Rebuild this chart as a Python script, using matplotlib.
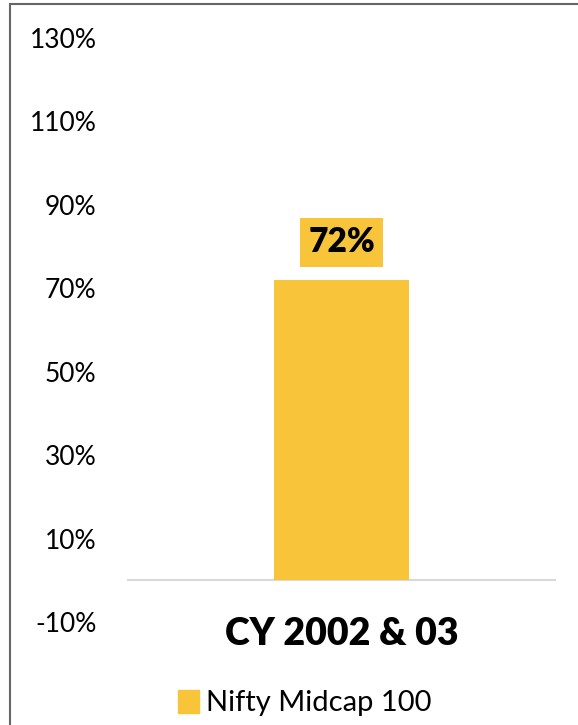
import matplotlib
matplotlib.use("Agg")
import matplotlib.pyplot as plt
from matplotlib.patches import Rectangle, Patch

# data
categories = ["CY 2002 & 03"]
series_name = "Nifty Midcap 100"
values = [72]
yticks = [-10, 10, 30, 50, 70, 90, 110, 130]

bar_color = "#F8C53A"
plt.rcParams["font.family"] = ["Lato", "DejaVu Sans"]

fig = plt.figure(figsize=(5.78, 7.25), dpi=100)
ax = fig.add_axes([127 / 578, 103 / 725, 429 / 578, 584 / 725])

x = list(range(len(categories)))
ax.bar(x, values, width=0.315, color=bar_color, zorder=2)
ax.axhline(0, color="#d9d9d9", lw=1.5, zorder=1)

for xi, v in zip(x, values):
    ax.text(xi, v + 9, "%d%%" % v, ha="center", va="center", fontsize=24,
            fontweight="heavy", color="black",
            bbox=dict(boxstyle="square,pad=0.25", fc=bar_color, ec="none"))
    ax.text(xi, -12.8, categories[xi], ha="center", va="center", fontsize=27,
            fontweight="heavy", clip_on=False)

ax.set_xlim(-0.5, 0.5)
ax.set_ylim(-10, 130)
ax.set_yticks(yticks)
ax.set_yticklabels(["%d%%" % t for t in yticks], fontsize=19)
ax.tick_params(axis="y", length=0, pad=22)
ax.set_xticks([])
for s in ax.spines.values():
    s.set_visible(False)

fig.legend(handles=[Patch(color=bar_color, label=series_name)],
           loc="center", bbox_to_anchor=(305 / 578, 1 - 703 / 725),
           frameon=False, fontsize=21, handlelength=0.7, handleheight=0.85,
           handletextpad=0.25)

# outer frame (only the left and top edges are inside the image)
fig.add_artist(Rectangle((10 / 578, -0.1), 1.2, 1.1 - 4 / 725,
                         transform=fig.transFigure, fill=False,
                         ec="#666666", lw=1.5))

fig.savefig("out.png", dpi=100)
